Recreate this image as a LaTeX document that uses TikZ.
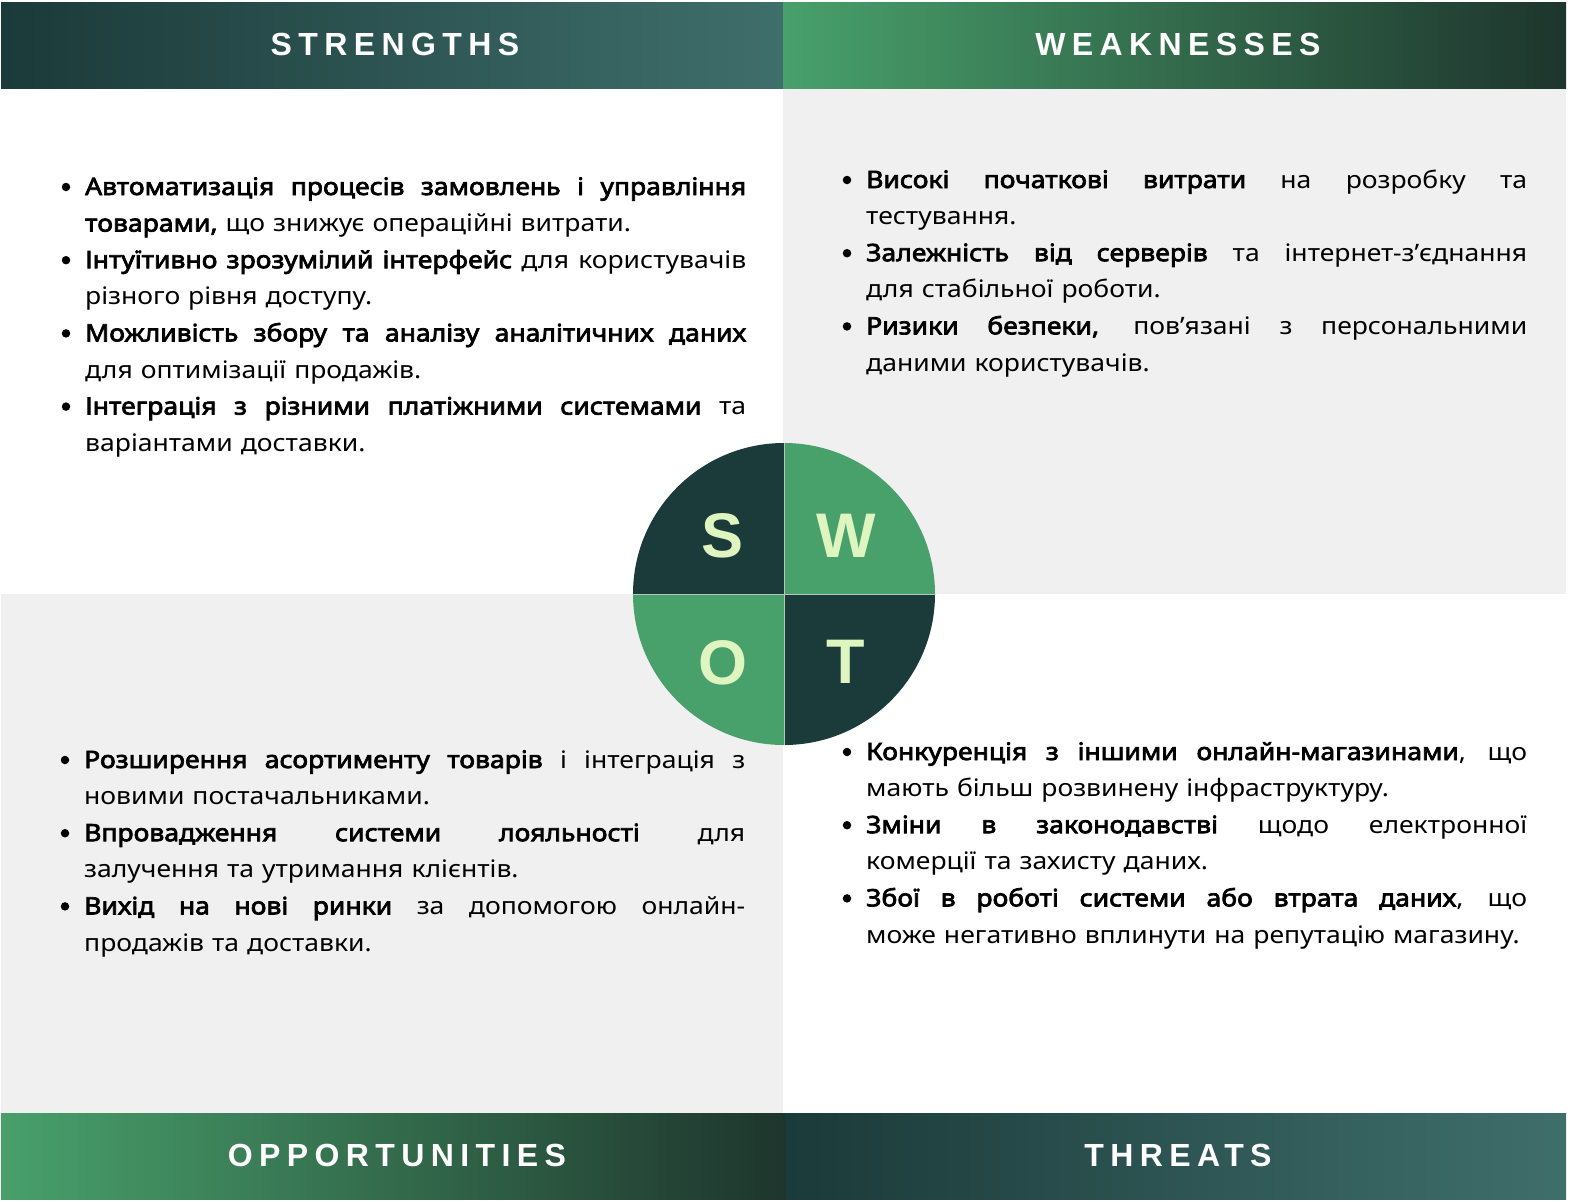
\documentclass[tikz,border=0pt]{standalone}
\usepackage{fontspec}
\setmainfont{Noto Sans}[AutoFakeBold=3, FakeStretch=1.105]
\newfontfamily\headfont[LetterSpace=20]{Liberation Sans}
\newfontfamily\letterfont{Liberation Sans}
\definecolor{dkteal}{HTML}{1B3A3A}
\definecolor{ltteal}{HTML}{3F6F6B}
\definecolor{grn}{HTML}{48A06B}
\definecolor{dkgrn}{HTML}{1E352D}
\definecolor{bggray}{HTML}{F0F0F0}
\definecolor{lettercol}{HTML}{DFF5C0}
\definecolor{divline}{HTML}{B8C4BE}
\hfuzz=30pt
\hbadness=10000
\newcommand{\jl}[1]{\makebox[661pt][s]{\spaceskip=0pt\xspaceskip=0pt\relax#1}}
\newcommand{\plainln}[1]{\mbox{#1}}
\tikzset{
  head/.style={text=white, font=\headfont\bfseries\fontsize{32}{36}\selectfont, inner sep=0pt},
  body/.style={anchor=base west, text width=661pt, align=left, inner sep=0pt,
    font=\fontsize{24}{36.6}\selectfont},
  bul/.style={circle, fill=black, inner sep=0pt, minimum size=8.5pt},
  letter/.style={text=lettercol, font=\letterfont\bfseries\fontsize{63}{63}\selectfont, inner sep=0pt}
}
\begin{document}
\begin{tikzpicture}[x=1pt,y=-1pt]
\useasboundingbox (0,0) rectangle (1572,1202);
\fill[white] (0,0) rectangle (1572,1202);
% backgrounds
\fill[bggray] (783,88) rectangle (1566,594);
\fill[bggray] (1,594) rectangle (783,1113);
% banners
\shade[left color=dkteal, right color=ltteal] (1,2) rectangle (783,88);
\shade[left color=grn, right color=dkgrn] (783,2) rectangle (1566,88);
\shade[left color=grn, right color=dkgrn] (1,1113) rectangle (786,1199);
\shade[left color=dkteal, right color=ltteal] (786,1113) rectangle (1566,1199);
\node[head] (hs) at (395,44) {STRENGTHS};
\node[head] (hw) at (1178,44) {WEAKNESSES};
\node[head] (ho) at (397,1155) {OPPORTUNITIES};
\node[head] (ht) at (1178,1155) {THREATS};
% circle
\begin{scope}
\clip (784,594) circle (151);
\fill[dkteal] (630,440) rectangle (784,594);
\fill[grn] (784,440) rectangle (940,594);
\fill[grn] (630,594) rectangle (784,750);
\fill[dkteal] (784,594) rectangle (940,750);
\draw[divline, line width=1pt] (784,440) -- (784,750);
\draw[divline, line width=1pt] (630,594) -- (940,594);
\end{scope}
\node[letter] (ls) at (723,536) {S};
\node[letter] (lw) at (846,536) {W};
\node[letter] (lo) at (723,663) {O};
\node[letter] (lt) at (846,662) {T};
% Strengths
\node[body] (st) at (85,195) {\jl{\textbf{Автоматизація процесів замовлень і управління}}\\
\plainln{\textbf{товарами,} що знижує операційні витрати.}\\
\jl{\textbf{Інтуїтивно зрозумілий інтерфейс} для користувачів}\\
\plainln{різного рівня доступу.}\\
\jl{\textbf{Можливість збору та аналізу аналітичних даних}}\\
\plainln{для оптимізації продажів.}\\
\jl{\textbf{Інтеграція з різними платіжними системами} та}\\
\plainln{варіантами доставки.}};
\node[bul] (sb1) at (66,187) {};
\node[bul] (sb2) at (66,260.2) {};
\node[bul] (sb3) at (66,333.4) {};
\node[bul] (sb4) at (66,406.6) {};
% Weaknesses
\node[body] (wt) at (866,188) {\jl{\textbf{Високі початкові витрати} на розробку та}\\
\plainln{тестування.}\\
\jl{\textbf{Залежність від серверів} та інтернет-з'єднання}\\
\plainln{для стабільної роботи.}\\
\jl{\textbf{Ризики безпеки,} пов'язані з персональними}\\
\plainln{даними користувачів.}};
\node[bul] (wb1) at (847,180) {};
\node[bul] (wb2) at (847,253.2) {};
\node[bul] (wb3) at (847,326.4) {};
% Opportunities
\node[body] (ot) at (84,768) {\jl{\textbf{Розширення асортименту товарів} і інтеграція з}\\
\plainln{новими постачальниками.}\\
\jl{\textbf{Впровадження системи лояльності} для}\\
\plainln{залучення та утримання клієнтів.}\\
\jl{\textbf{Вихід на нові ринки} за допомогою онлайн-}\\
\plainln{продажів та доставки.}};
\node[bul] (ob1) at (65,760) {};
\node[bul] (ob2) at (65,833.2) {};
\node[bul] (ob3) at (65,906.4) {};
% Threats
\node[body] (tt) at (866,760) {\jl{\textbf{Конкуренція з іншими онлайн-магазинами}, що}\\
\plainln{мають більш розвинену інфраструктуру.}\\
\jl{\textbf{Зміни в законодавстві} щодо електронної}\\
\plainln{комерції та захисту даних.}\\
\jl{\textbf{Збої в роботі системи або втрата даних}, що}\\
\plainln{може негативно вплинути на репутацію магазину.}};
\node[bul] (tb1) at (847,752) {};
\node[bul] (tb2) at (847,825.2) {};
\node[bul] (tb3) at (847,898.4) {};
\end{tikzpicture}
\end{document}
